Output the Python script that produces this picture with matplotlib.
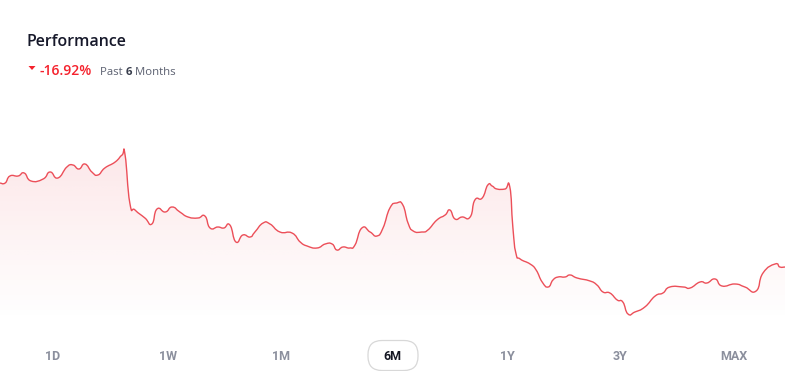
import numpy as np
import matplotlib
matplotlib.use("Agg")
import matplotlib.pyplot as plt
from matplotlib.patches import FancyBboxPatch, PathPatch
from matplotlib.path import Path
from matplotlib.lines import Line2D

# ---- data (day index within the 6-month window, price) ----
days = [0, 1.2, 2.3, 4.2, 5.6, 7.2, 10.0, 11.6, 13.4, 15.5, 16.9, 18.3, 19.7, 21.3, 22.7,
        24.3, 26.7, 28.3, 29.0, 30.1, 31.3, 33.6, 35.2, 36.4, 38.3, 39.9, 41.7, 43.6, 45.9,
        47.5, 48.7, 50.5, 51.9, 53.3, 54.7, 56.3, 58.0, 59.1, 61.0, 62.6, 64.9, 67.7, 69.6,
        71.2, 73.5, 75.4, 77.0, 78.1, 79.5, 81.1, 82.3, 83.9, 85.8, 87.4, 88.8, 90.4, 92.0,
        93.4, 94.6, 95.8, 97.8, 99.2, 101.3, 103.2, 104.3, 105.5, 107.1, 109.0, 110.1, 111.8,
        113.1, 114.1, 115.2, 117.1, 118.2, 118.9, 119.6, 120.6, 122.9, 124.3, 125.7, 127.1,
        128.2, 129.4, 131.0, 132.2, 133.8, 136.8, 138.4, 139.8, 141.4, 143.1, 144.4, 145.6,
        147.2, 149.5, 151.9, 153.7, 155.3, 158.4, 160.0, 162.3, 163.9, 165.8, 167.4, 170.4,
        172.7, 175.3, 176.9, 179.7, 180.8, 182.0]
prices = [49.7, 49.7, 50.4, 50.4, 50.7, 49.9, 50.1, 50.8, 50.2, 51.3, 51.5, 51.1, 51.6, 50.8, 50.5,
          51.2, 51.8, 52.5, 52.5, 47.7, 47.0, 46.2, 45.6, 47.1, 46.8, 47.3, 46.8, 46.3, 46.2,
          46.4, 45.2, 45.3, 45.2, 45.5, 43.8, 44.5, 44.3, 44.8, 45.7, 45.6, 44.8, 44.7, 43.8,
          43.4, 43.2, 43.6, 43.6, 43.0, 43.3, 43.2, 43.5, 45.2, 44.8, 44.4, 45.2, 47.2, 47.7,
          47.5, 45.7, 44.9, 44.8, 45.0, 46.0, 46.5, 47.0, 46.1, 46.3, 46.3, 48.0, 48.2,
          49.5, 49.4, 49.1, 49.1, 49.3, 45.3, 42.7, 42.1, 41.6, 41.0, 39.8, 39.3,
          40.0, 40.3, 40.3, 40.5, 40.2, 39.9, 39.5, 38.8, 38.7, 38.0, 37.8, 36.6,
          36.8, 37.3, 38.4, 38.7, 39.3, 39.3, 39.2, 39.8, 39.7, 40.1, 39.4, 39.6,
          39.3, 38.9, 40.7, 41.6, 41.3, 41.3]
title = "Performance"
change_text = "-16.92%"
period_parts = ["Past ", "6", " Months"]
ranges = ["1D", "1W", "1M", "6M", "1Y", "3Y", "MAX"]
active_range = "6M"

W, H = 785, 371
fig = plt.figure(figsize=(W / 100, H / 100), dpi=100)
fig.patch.set_facecolor("white")

def px(x, y):
    return x / W, 1 - y / H

# ---- chart area ----
top_px, bot_px = 140, 335
ax = fig.add_axes([0, 1 - bot_px / H, 1, (bot_px - top_px) / H])
ax.set_axis_off()
ax.set_xlim(days[0], days[-1])
ylo, yhi = 34.5, 54.0
ax.set_ylim(ylo, yhi)

# smooth (Catmull-Rom -> cubic Bezier) path through the data points, built in display space
def smooth_path(xs, ys, tension=0.5):
    xs = np.asarray(xs, float)
    ys = np.asarray(ys, float)
    n = len(xs)
    verts = [(xs[0], ys[0])]
    codes = [Path.MOVETO]
    for i in range(n - 1):
        p0 = np.array([xs[max(i - 1, 0)], ys[max(i - 1, 0)]])
        p1 = np.array([xs[i], ys[i]])
        p2 = np.array([xs[i + 1], ys[i + 1]])
        p3 = np.array([xs[min(i + 2, n - 1)], ys[min(i + 2, n - 1)]])
        c1 = p1 + (p2 - p0) * tension / 3
        c2 = p2 - (p3 - p1) * tension / 3
        # keep control points within segment's x-range (avoid overshoot in x)
        c1[0] = np.clip(c1[0], p1[0], p2[0])
        c2[0] = np.clip(c2[0], p1[0], p2[0])
        verts += [tuple(c1), tuple(c2), tuple(p2)]
        codes += [Path.CURVE4] * 3
    return verts, codes

line_color = "#ec4f59"
verts, codes = smooth_path(days, prices, tension=0.8)
line_path = Path(verts, codes)
fill_verts = verts + [(days[-1], ylo), (days[0], ylo), (days[0], prices[0])]
fill_codes = codes + [Path.LINETO, Path.LINETO, Path.CLOSEPOLY]
fill_patch = PathPatch(Path(fill_verts, fill_codes), transform=ax.transData,
                       facecolor="none", edgecolor="none")
ax.add_patch(fill_patch)

ny = 300
vals = np.linspace(yhi, ylo, ny)
alpha = 0.13 * np.clip((vals - 36.0) / (52.5 - 36.0), 0, 1)
rgba = np.zeros((ny, 2, 4))
rgba[..., 0] = 236 / 255
rgba[..., 1] = 79 / 255
rgba[..., 2] = 89 / 255
rgba[..., 3] = alpha[:, None]
im = ax.imshow(rgba, extent=[days[0], days[-1], ylo, yhi], aspect="auto",
               origin="upper", zorder=1, interpolation="bilinear")
im.set_clip_path(fill_patch)
ax.add_patch(PathPatch(line_path, transform=ax.transData, facecolor="none",
                       edgecolor=line_color, lw=1.0, zorder=3, joinstyle="round"))

# ---- overlay in pixel coordinates for the button outline ----
ov = fig.add_axes([0, 0, 1, 1], zorder=-1)
ov.set_axis_off()
ov.set_xlim(0, W)
ov.set_ylim(H, 0)
box = FancyBboxPatch((368, 340.5), 50, 30, boxstyle="round,pad=0,rounding_size=14",
                     facecolor="white", edgecolor="#d8d8d8", lw=0.9)
ov.add_patch(box)

# ---- header ----
fig.text(*px(27, 45.5), title, fontsize=11.5, fontweight="semibold",
         family=["Open Sans", "DejaVu Sans"], color="#16182a", va="baseline", ha="left")
tri = Path([(28.5, 66), (35.5, 66), (32, 70), (28.5, 66)],
           [Path.MOVETO, Path.LINETO, Path.LINETO, Path.CLOSEPOLY])
fig.add_artist(PathPatch(tri, transform=ov.transData, facecolor="#f5222d", edgecolor="none"))
fig.text(*px(40, 75), change_text, fontsize=10, fontweight="semibold",
         family=["Open Sans", "DejaVu Sans"], color="#f5222d", va="baseline", ha="left")

renderer = fig.canvas.get_renderer()
x_cur = 100
styles = [("normal", "#5b6070"), ("bold", "#3a3f4e"), ("normal", "#5b6070")]
for part, (wt, col) in zip(period_parts, styles):
    t = fig.text(*px(x_cur, 75), part, fontsize=8.2, fontweight=wt,
                 family=["Open Sans", "DejaVu Sans"], color=col, va="baseline", ha="left")
    bb = t.get_window_extent(renderer=renderer)
    x_cur += bb.width

# ---- range buttons ----
centers = [53, 168, 281, 392, 507, 620, 734]
for lab, cx in zip(ranges, centers):
    active = lab == active_range
    fig.text(*px(cx, 356.5), lab, fontsize=9, fontweight="bold",
             family=["Roboto", "DejaVu Sans"],
             color="#141622" if active else "#8b8f9d", va="center", ha="center")

fig.savefig("out.png", dpi=100, facecolor="white")
